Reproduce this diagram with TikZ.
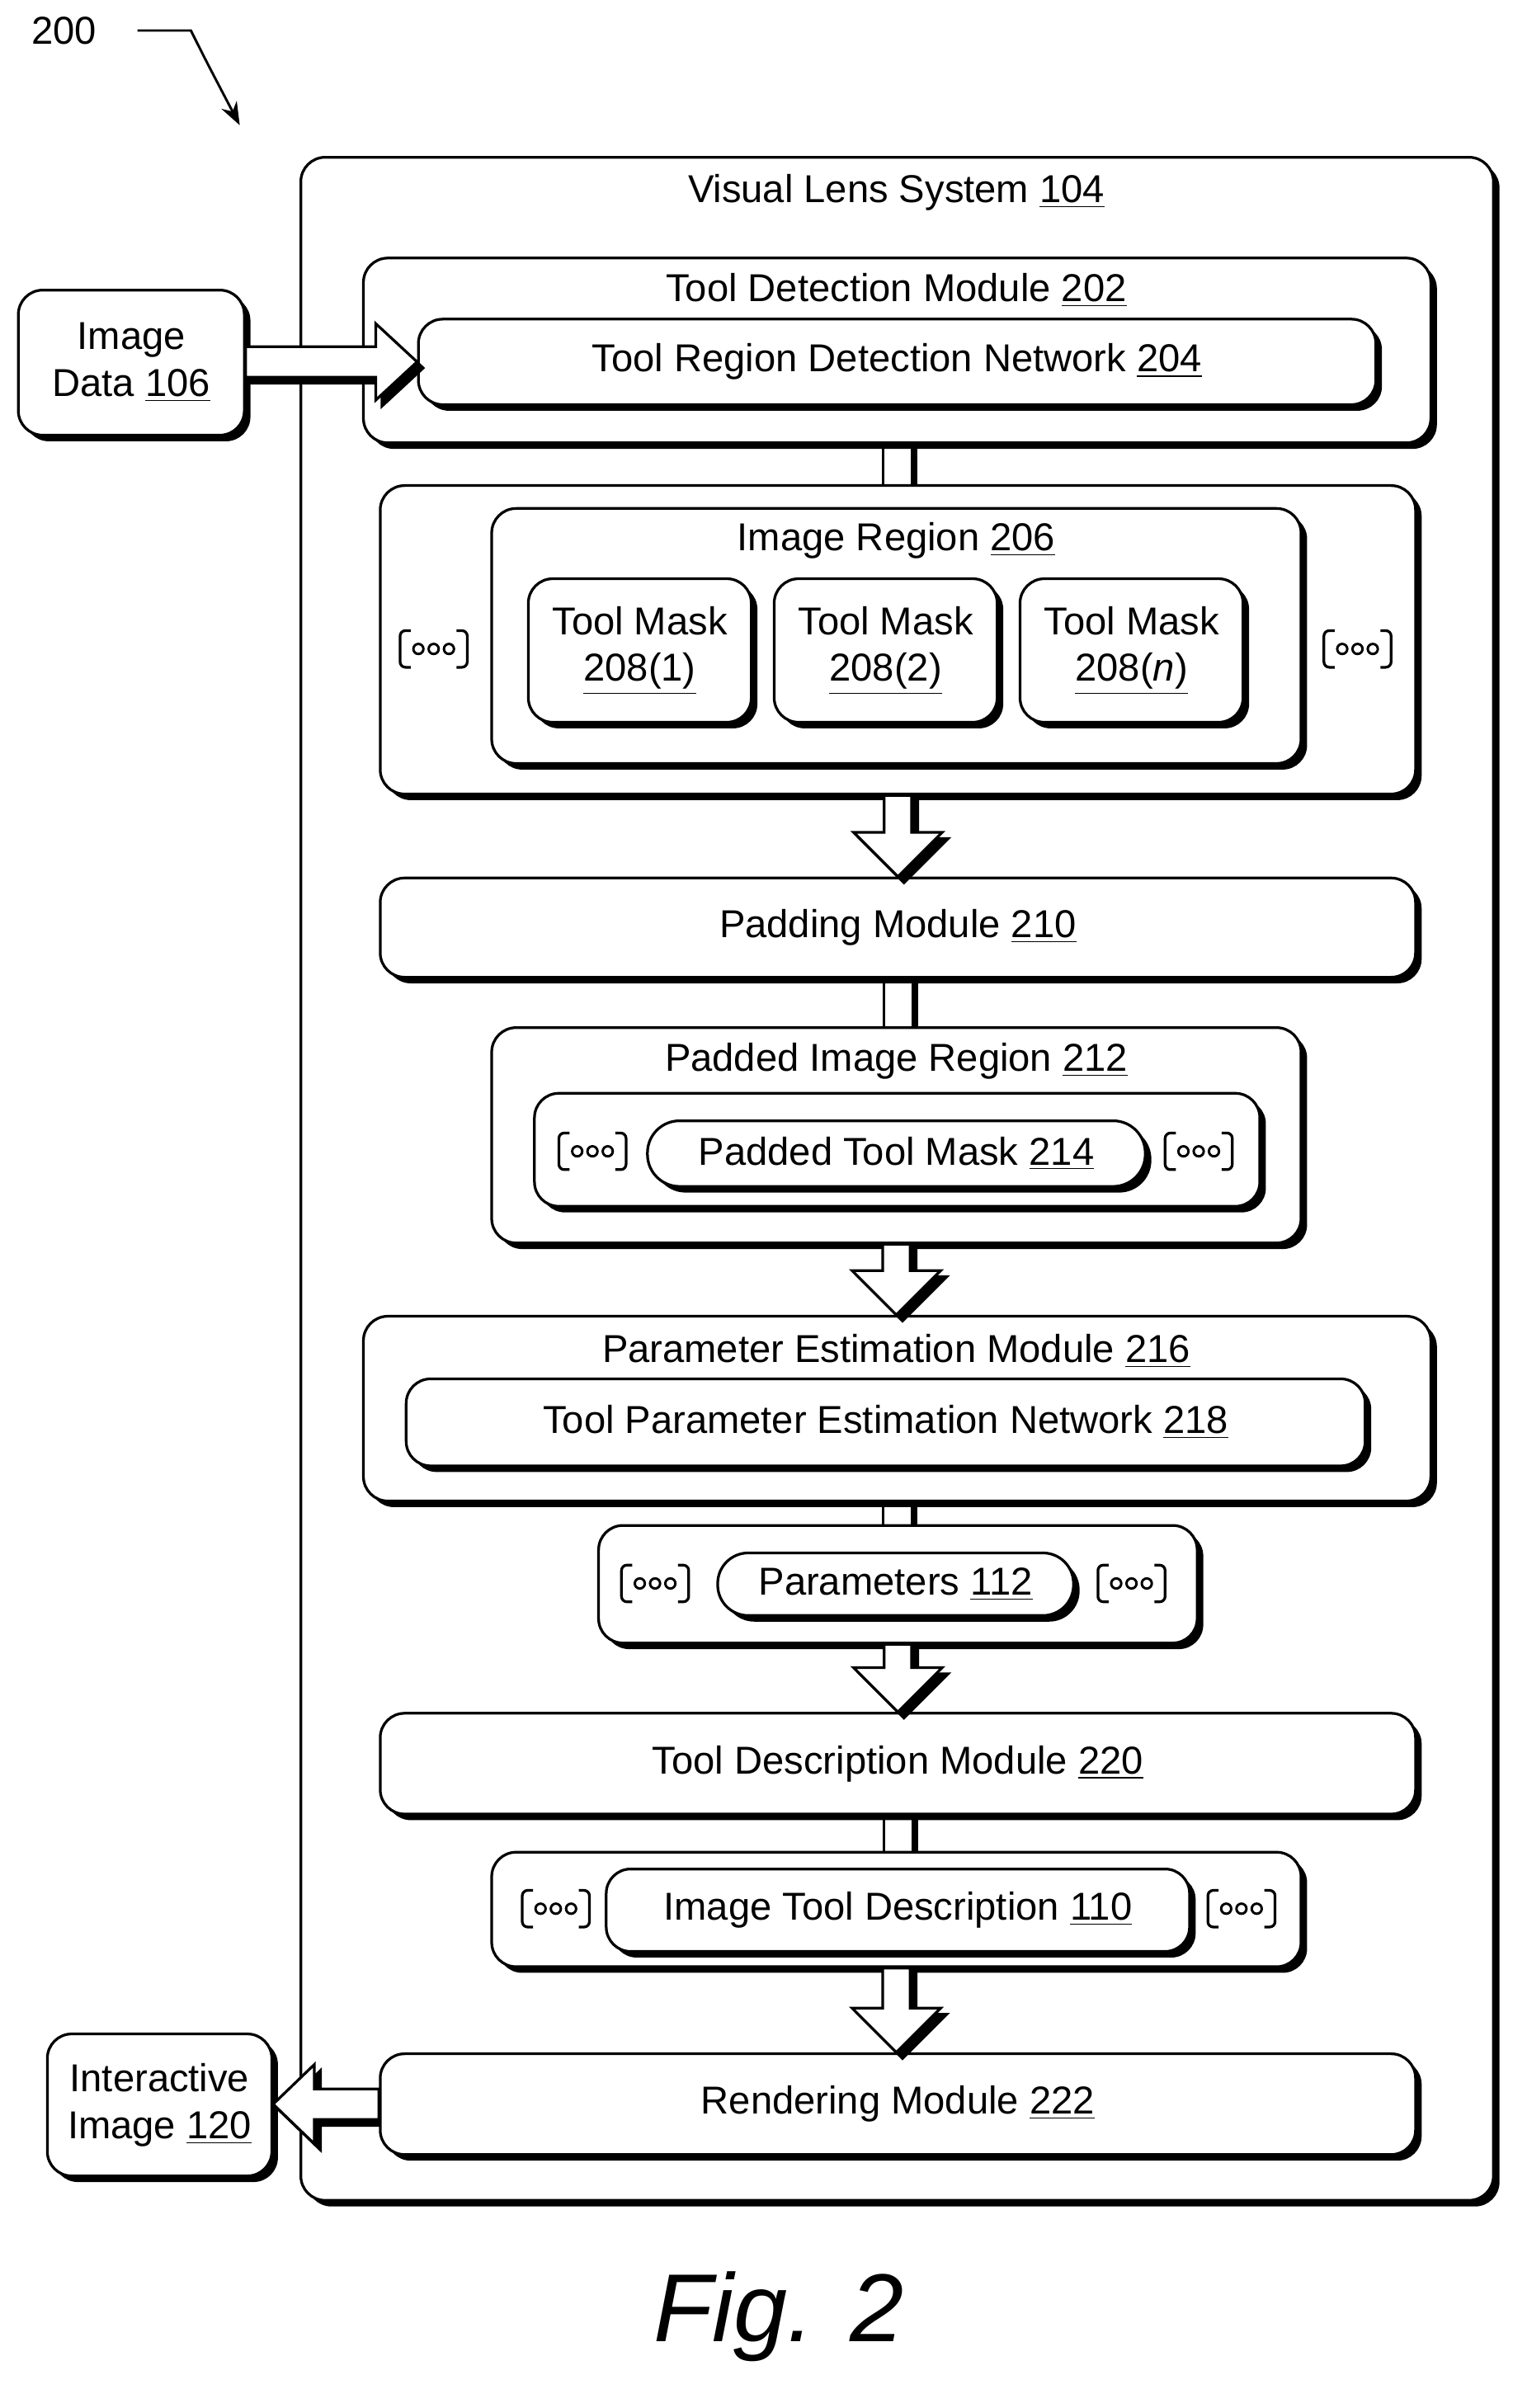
\documentclass[tikz,border=0pt]{standalone}
\usepackage{fontspec}
\setmainfont{Liberation Sans}
\usetikzlibrary{fit, calc, shadows, arrows.meta}

\tikzset{
  box/.style={draw, line width=1pt, rounded corners=0.32cm, fill=white, inner sep=0pt,
    drop shadow={shadow xshift=0.08cm, shadow yshift=-0.08cm, opacity=1, fill=black}},
  lbl/.style={font=\fontsize{14.5}{17.5}\selectfont, align=center},
  blk/.style={line width=1pt, fill=white, line join=miter},
  dotsicon/.pic={
    \draw[line width=1pt, rounded corners=2pt] (-15,-12) -- (-22,-12) -- (-22,12) -- (-15,12);
    \draw[line width=1pt, rounded corners=2pt] (15,-12) -- (22,-12) -- (22,12) -- (15,12);
    \foreach \i in {-10,0,10} \draw[line width=0.9pt] (\i,0) circle (3.3);
  }
}

% connector without head
\newcommand\shaft[2]{%
  \draw[line width=1pt] let \p1=(#1.south), \p2=(#2.north) in
    (\x1-0.18cm,\y1) -- (\x1-0.18cm,\y2);
  \draw[line width=2.6pt] let \p1=(#1.south), \p2=(#2.north) in
    (\x1+0.22cm,\y1) -- (\x1+0.22cm,\y2);
}
% block arrow pointing down
\newcommand\blockdown[2]{%
  \foreach \s/\c in {0.08cm/black, 0cm/white}
  \draw[blk, fill=\c, draw=black] let \p1=(#1.south), \p2=(#2.north) in
    (\x1-0.18cm+\s,\y1) -- (\x1-0.18cm+\s,\y2+0.58cm-\s) -- (\x1-0.58cm+\s,\y2+0.58cm-\s) -- (\x1+\s,\y2-\s)
    -- (\x1+0.58cm+\s,\y2+0.58cm-\s) -- (\x1+0.18cm+\s,\y2+0.58cm-\s) -- (\x1+0.18cm+\s,\y1) -- cycle;
}

\begin{document}
\begin{tikzpicture}[x=0.02cm, y=-0.02cm]
\useasboundingbox (0,0) rectangle (1000,1577);

% outer system
\node[box, fit={(197,103) (978,1441)}] (vls) {};
\node[lbl] (vls-t) at (587,126) {Visual Lens System \underline{104}};

% tool detection
\node[box, fit={(238,169) (937,290)}] (tdm) {};
\node[lbl] (tdm-t) at (587,190) {Tool Detection Module \underline{202}};
\node[box, fit={(274,209) (901,265)}] (trdn) {};
\node[lbl] at (trdn) {Tool Region Detection Network \underline{204}};

\node[box, fit={(12,190) (160,285)}] (imgdata) {};
\node[lbl] at (imgdata) {Image\\Data \underline{106}};

% image region
\node[box, fit={(249,318) (927,520)}] (irgroup) {};
\node[box, fit={(322,333) (852,500)}] (ir) {};
\node[lbl] (ir-t) at (587,354) {Image Region \underline{206}};
\node[box, fit={(346,379) (492,473)}] (tm1) {};
\node[lbl] at (tm1) {Tool Mask\\\underline{208(1)}};
\node[box, fit={(507,379) (653,473)}] (tm2) {};
\node[lbl] at (tm2) {Tool Mask\\\underline{208(2)}};
\node[box, fit={(668,379) (814,473)}] (tmn) {};
\node[lbl] at (tmn) {Tool Mask\\\underline{208(\textit{n})}};
\pic at (284,425) {dotsicon};
\pic at (889,425) {dotsicon};

% padding
\node[box, fit={(249,575) (927,640)}] (pad) {};
\node[lbl] at (pad) {Padding Module \underline{210}};

\node[box, fit={(322,673) (852,814)}] (pir) {};
\node[lbl] (pir-t) at (587,695) {Padded Image Region \underline{212}};
\node[box, fit={(350,716) (825,790)}] (ptmgroup) {};
\node[box, fit={(424,734) (750,777)}, rounded corners=0.42cm] (ptm) {};
\node[lbl] at (ptm) {Padded Tool Mask \underline{214}};
\pic at (388,754) {dotsicon};
\pic at (785,754) {dotsicon};

% parameter estimation
\node[box, fit={(238,862) (937,983)}] (pem) {};
\node[lbl] (pem-t) at (587,885) {Parameter Estimation Module \underline{216}};
\node[box, fit={(266,903) (894,960)}] (tpen) {};
\node[lbl] at (tpen) {Tool Parameter Estimation Network \underline{218}};

\node[box, fit={(392,999) (784,1076)}] (pargroup) {};
\node[box, fit={(470,1017) (703,1058)}, rounded corners=0.4cm] (par) {};
\node[lbl] at (par) {Parameters \underline{112}};
\pic at (429,1037) {dotsicon};
\pic at (741,1037) {dotsicon};

% description
\node[box, fit={(249,1122) (927,1188)}] (tdesc) {};
\node[lbl] at (tdesc) {Tool Description Module \underline{220}};

\node[box, fit={(322,1213) (852,1288)}] (itdgroup) {};
\node[box, fit={(397,1224) (779,1278)}] (itd) {};
\node[lbl] at (itd) {Image Tool Description \underline{110}};
\pic at (364,1250) {dotsicon};
\pic at (813,1250) {dotsicon};

% rendering
\node[box, fit={(249,1345) (927,1411)}] (rend) {};
\node[lbl] at (rend) {Rendering Module \underline{222}};

\node[box, fit={(31,1332) (178,1425)}] (inter) {};
\node[lbl] at (inter) {Interactive\\Image \underline{120}};

% connectors
\shaft{tdm}{irgroup}
\blockdown{irgroup}{pad}
\shaft{pad}{pir}
\blockdown{pir}{pem}
\shaft{pem}{pargroup}
\blockdown{pargroup}{tdesc}
\shaft{tdesc}{itdgroup}
\blockdown{itdgroup}{rend}

% image data into the network
\foreach \s/\c in {0.08cm/black, 0cm/white}
\draw[blk, fill=\c] let \p1=(imgdata.east), \p2=(trdn.west) in
  (\x1,\y2+0.2cm-\s) -- (\x2-0.54cm+\s,\y2+0.2cm-\s) -- (\x2-0.54cm+\s,\y2+0.5cm-\s) -- (\x2+\s,\y2-\s)
  -- (\x2-0.54cm+\s,\y2-0.5cm-\s) -- (\x2-0.54cm+\s,\y2-0.2cm-\s) -- (\x1,\y2-0.2cm-\s) -- cycle;

% rendering out to interactive image
\foreach \s/\c in {0.08cm/black, 0cm/white}
\draw[blk, fill=\c] let \p1=(rend.west), \p2=(inter.east) in
  (\x1,\y1+0.2cm-\s) -- (\x2+0.54cm+\s,\y1+0.2cm-\s) -- (\x2+0.54cm+\s,\y1+0.52cm-\s) -- (\x2+\s,\y1-\s)
  -- (\x2+0.54cm+\s,\y1-0.52cm-\s) -- (\x2+0.54cm+\s,\y1-0.2cm-\s) -- (\x1,\y1-0.2cm-\s) -- cycle;

% figure number
\node[lbl] (num) at (42,20) {200};
\coordinate (numtip) at (157,82);
\draw[line width=0.9pt, -{Stealth[length=0.3cm]}] (90,20) -- (125,20) .. controls (135,40) .. (numtip);

\node[font=\fontsize{36}{40}\selectfont\itshape] (fig) at (510,1517) {Fig. 2};
\end{tikzpicture}
\end{document}
